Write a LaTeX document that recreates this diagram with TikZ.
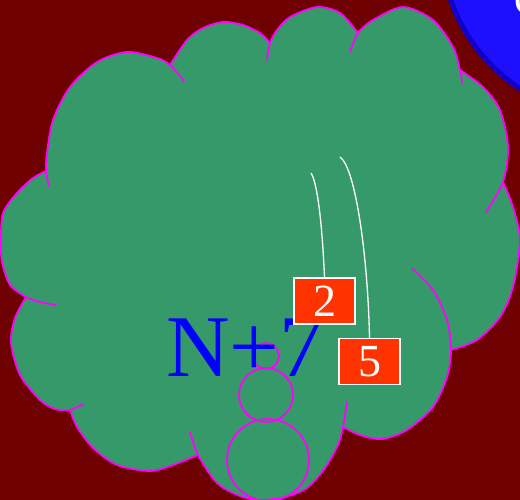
\documentclass[tikz,border=0pt]{standalone}
\usepackage{fontspec}
\setmainfont{Liberation Serif}
\definecolor{bgred}{RGB}{110,0,0}
\definecolor{cloudgreen}{RGB}{54,153,106}
\definecolor{boxred}{RGB}{255,51,0}
\definecolor{ballblue}{RGB}{28,16,255}
\definecolor{balledge}{RGB}{16,0,200}
\definecolor{puffpink}{RGB}{255,0,255}
\definecolor{textblue}{RGB}{0,0,255}
\begin{document}
\begin{tikzpicture}[x=1pt,y=-1pt,
  puffline/.style={draw=puffpink, line width=1.8pt, line cap=round},
  bubble/.style={draw=puffpink, line width=1.8pt},
  numbox/.style={fill=boxred, draw=white, line width=1.5pt, text=white,
    font=\fontsize{46}{46}\selectfont, minimum width=61pt, minimum height=46pt, inner sep=0pt},
  wire/.style={draw=white, line width=1.3pt}]
\useasboundingbox (0,0) rectangle (520,500);
\clip (0,0) rectangle (520,500);
\fill[bgred] (0,0) rectangle (520,500);
% blue ball at top right
\draw[line width=5pt, draw=balledge, fill=ballblue] (614,-56) circle[radius=172.5];
\node[anchor=base west, inner sep=0pt, text=white, font=\fontsize{40}{40}\selectfont] (ball) at (514,15) {C};
% cloud fill
\fill[cloudgreen] plot[smooth] coordinates {(46,171) (47,153) (53,120) (70,87) (97,62) (127,52) (157,58) (170,65)}
 -- plot[smooth] coordinates {(170,65) (187,40) (203,28) (223,22) (243,25) (260,33) (270,43)}
 -- plot[smooth] coordinates {(270,43) (277,30) (290,17) (317,7) (340,13) (358,33)}
 -- plot[smooth] coordinates {(358,33) (373,20) (403,7) (433,20) (453,47) (460,70)}
 -- plot[smooth] coordinates {(460,70) (483,87) (500,110) (508,147) (503,182)}
 -- plot[smooth] coordinates {(503,182) (513,207) (520,240) (513,287) (500,317) (477,340) (451,350)}
 -- plot[smooth] coordinates {(451,350) (447,377) (433,407) (407,430) (382,439) (360,435) (343,427)}
 -- plot[smooth] coordinates {(343,427) (338,445) (325,468) (307,488) (285,497) (260,500) (240,496) (217,483) (198,455)}
 -- plot[smooth] coordinates {(198,455) (173,465) (150,471) (117,465) (93,448) (77,427) (70,410)}
 -- plot[smooth] coordinates {(70,410) (55,409) (40,400) (20,375) (11,343) (15,318) (26,297)}
 -- plot[smooth] coordinates {(26,297) (10,285) (2,262) (1,240) (3,213) (17,193) (33,178) (46,171)}
 -- cycle;
% cloud puffs outline
\draw[puffline] plot[smooth] coordinates {(49,186) (46,171) (47,153) (53,120) (70,87) (97,62) (127,52) (157,58) (170,65) (184,81)};
\draw[puffline] plot[smooth] coordinates {(170,65) (187,40) (203,28) (223,22) (243,25) (260,33) (270,43)};
\draw[puffline] plot[smooth] coordinates {(267,60) (270,43) (277,30) (290,17) (317,7) (340,13) (358,33)};
\draw[puffline] plot[smooth] coordinates {(350,52) (358,33) (373,20) (403,7) (433,20) (453,47) (460,70) (462,83)};
\draw[puffline] plot[smooth] coordinates {(460,70) (483,87) (500,110) (508,147) (503,182) (486,212)};
\draw[puffline] plot[smooth] coordinates {(503,182) (513,207) (520,240) (513,287) (500,317) (477,340) (451,350)};
\draw[puffline] plot[smooth] coordinates {(412,268) (433,290) (447,320) (451,350) (447,377) (433,407) (407,430) (382,439) (360,435) (343,427)};
\draw[puffline] plot[smooth] coordinates {(347,402) (343,427) (338,445) (325,468) (307,488) (285,497) (260,500) (240,496) (217,483) (198,455) (190,432)};
\draw[puffline] plot[smooth] coordinates {(198,455) (173,465) (150,471) (117,465) (93,448) (77,427) (70,410)};
\draw[puffline] plot[smooth] coordinates {(83,404) (70,410) (55,409) (40,400) (20,375) (11,343) (15,318) (26,297)};
\draw[puffline] plot[smooth] coordinates {(56,305) (40,302) (26,297) (10,285) (2,262) (1,240) (3,213) (17,193) (33,178) (46,171)};
% thought bubbles
\draw[bubble] (268,460) circle[radius=41];
\draw[bubble] (266,395) circle[radius=27];
\draw[bubble] (266,356) circle[radius=13];
% label
\node[anchor=base west, inner sep=0pt, text=textblue, font=\fontsize{88}{88}\selectfont] (lbl) at (166,376) {N+7};
% boxes and wires
\node[numbox] (b2) at (324.5,301) {2};
\node[numbox] (b5) at (369.5,361.5) {5};
\coordinate (e2) at (311,173);
\coordinate (e5) at (340,157);
\draw[wire] (b2.north) .. controls (322,220) and (317,182) .. (e2);
\draw[wire] (b5.north) .. controls (368,260) and (356,168) .. (e5);
\end{tikzpicture}
\end{document}
